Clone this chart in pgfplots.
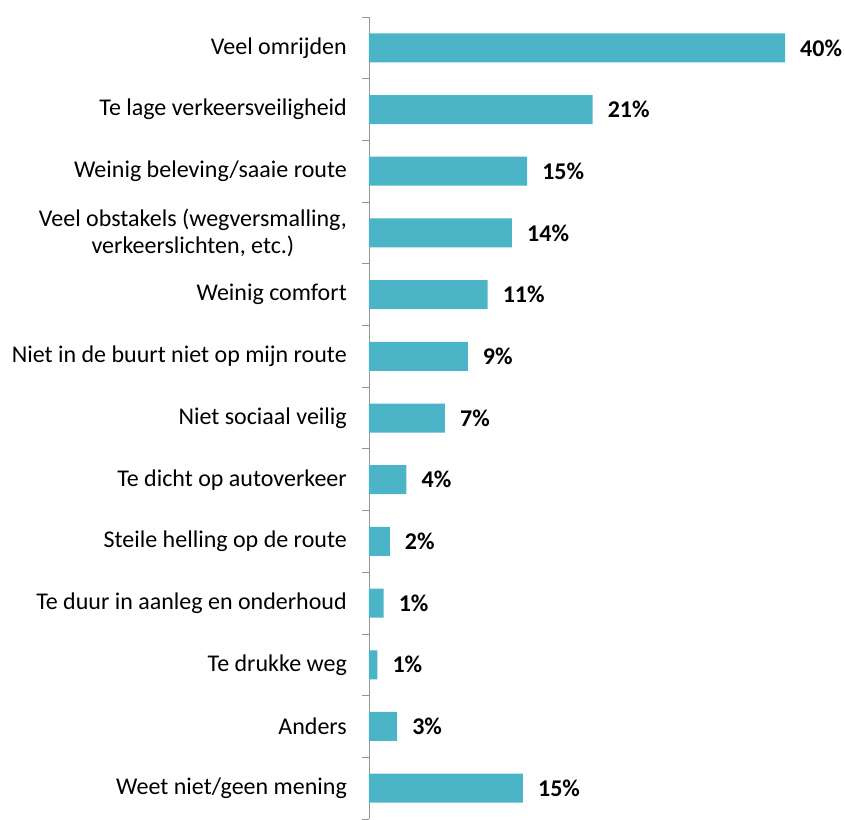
\documentclass[border=0pt]{standalone}
\usepackage{pgfplots}
\pgfplotsset{compat=1.18}
\usepackage{fontspec}
\setmainfont{Carlito}
\definecolor{barteal}{RGB}{75,180,198}
\definecolor{axgray}{RGB}{150,150,150}

\begin{document}
\begin{tikzpicture}
    \begin{axis}[%
            name=ax,
            at={(0,0)},
            anchor=south west,
            scale only axis,
            width=416pt,
            height=802pt,
            xbar,
            bar width=29pt,
            xmin=0,
            xmax=40,
            ymin=-0.5,
            ymax=12.5,
            y dir=reverse,
            axis y line*=left,
            axis x line=none,
            y axis line style={draw=axgray, line width=0.8pt},
            ytick={0,...,12},
            yticklabels={
                Veel omrijden,
                Te lage verkeersveiligheid,
                Weinig beleving/saaie route,
                {Veel obstakels (wegversmalling,\\verkeerslichten, etc.)},
                Weinig comfort,
                Niet in de buurt niet op mijn route,
                Niet sociaal veilig,
                Te dicht op autoverkeer,
                Steile helling op de route,
                Te duur in aanleg en onderhoud,
                Te drukke weg,
                Anders,
                Weet niet/geen mening},
            major tick length=0pt,
            minor ytick={-0.5,0.5,...,12.5},
            minor tick length=7pt,
            tick align=outside,
            minor tick style={draw=axgray, line width=0.8pt},
            yticklabel style={font=\fontsize{24}{27}\selectfont, align=center, inner sep=0pt, xshift=-22pt},
            point meta=explicit,
            nodes near coords={\pgfmathprintnumber[fixed,precision=0,assume math mode=true]{\pgfplotspointmeta}\%},
            nodes near coords align={horizontal},
            every node near coord/.append style={font=\fontsize{24}{27}\selectfont\bfseries, black, anchor=west, inner sep=0pt, xshift=15pt},
            clip=false,
        ]
        \addplot[fill=barteal, draw=none] coordinates {
            (40,0) [40]
            (21.5,1) [21]
            (15.2,2) [15]
            (13.75,3) [14]
            (11.4,4) [11]
            (9.5,5) [9]
            (7.3,6) [7]
            (3.6,7) [4]
            (2.0,8) [2]
            (1.4,9) [1]
            (0.8,10) [1]
            (2.7,11) [3]
            (14.8,12) [15]
        };
    \end{axis}
    \path[use as bounding box] (-369pt,5pt) rectangle (476pt,819pt);
\end{tikzpicture}
\end{document}
